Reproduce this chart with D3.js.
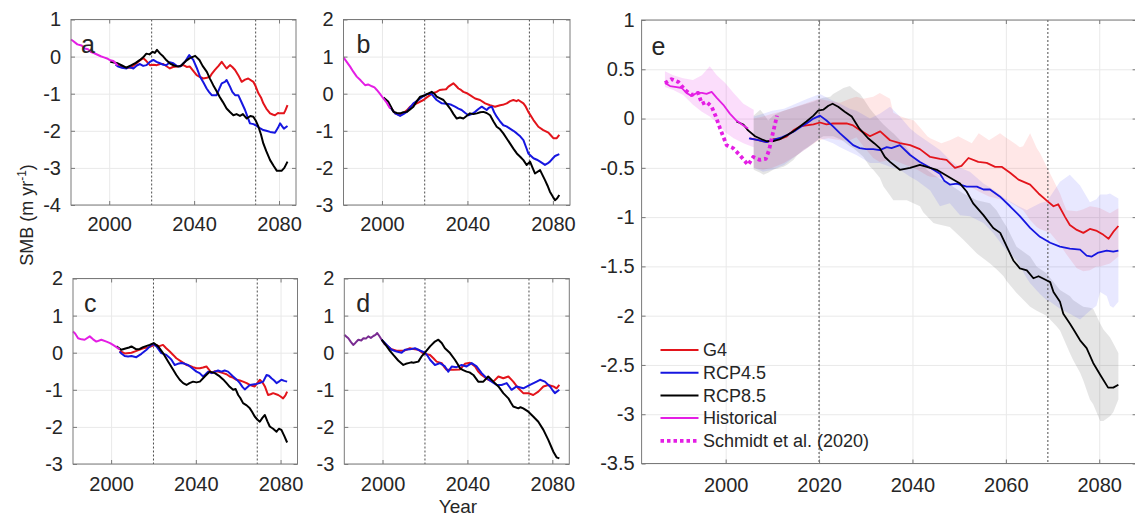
<!DOCTYPE html>
<html>
<head>
<meta charset="utf-8">
<script src="https://cdn.jsdelivr.net/npm/d3@7"></script>
<style>
  body { margin: 0; background: #fff; }
  svg text { font-family: "Liberation Sans", Arial, Helvetica, sans-serif; fill: #262626; }
</style>
</head>
<body>
<div id="chart"></div>
<script>
// ---- data: [year, SMB] ----
var a_hist = [[1982,0.46],[1983,0.42],[1985,0.33],[1987,0.3],[1988.5,0.22],[1990,0.2],[1991.5,0.12],[1993,0.09],[1994.5,0.05],[1996,0.01],[1997.5,-0.02],[1999,-0.05],[2000.5,-0.1],[2002,-0.12],[2004,-0.24]];
var a_g4 = [[2004,-0.25],[2007,-0.3],[2010,-0.3],[2012,-0.22],[2013.7,-0.14],[2015,-0.08],[2016,-0.04],[2017.5,-0.12],[2019.2,-0.23],[2021,-0.22],[2022.4,-0.23],[2024,-0.2],[2025.5,-0.2],[2027,-0.26],[2028.6,-0.32],[2030,-0.28],[2031.8,-0.27],[2033.5,-0.25],[2035,-0.23],[2036.5,-0.28],[2038,-0.27],[2039.5,-0.38],[2041.2,-0.5],[2042.8,-0.55],[2044.3,-0.59],[2046,-0.57],[2047.5,-0.54],[2048.5,-0.45],[2049.8,-0.36],[2051.5,-0.25],[2053,-0.14],[2054,-0.22],[2055.3,-0.32],[2056.9,-0.23],[2058,-0.28],[2059.3,-0.36],[2060.8,-0.5],[2062.4,-0.68],[2064,-0.62],[2065.5,-0.59],[2067.9,-0.68],[2069,-0.8],[2070.3,-0.99],[2071.5,-1.1],[2072.6,-1.26],[2074,-1.4],[2075.8,-1.53],[2077,-1.56],[2078.1,-1.58],[2079.5,-1.52],[2080.5,-1.53],[2082.3,-1.53],[2083,-1.45],[2084,-1.31]];
var a_rcp45 = [[2003,-0.22],[2004.3,-0.27],[2006,-0.3],[2008.2,-0.32],[2009.5,-0.28],[2011.4,-0.32],[2013,-0.24],[2014.5,-0.2],[2016,-0.25],[2017.6,-0.23],[2019,-0.15],[2020.8,-0.09],[2022.3,-0.14],[2023.9,-0.18],[2025.5,-0.22],[2027,-0.23],[2028.5,-0.15],[2030.2,-0.18],[2031.8,-0.25],[2033.4,-0.27],[2035.7,-0.14],[2037.7,0.04],[2039.6,-0.09],[2041.2,-0.3],[2042.8,-0.54],[2044.4,-0.7],[2045.9,-0.86],[2047,-0.95],[2048.3,-1.04],[2050.6,-1.04],[2052,-0.85],[2053,-0.72],[2054.5,-0.68],[2055.3,-0.63],[2056.9,-0.81],[2058,-0.95],[2059.3,-1.04],[2060.8,-1.04],[2062.5,-1.25],[2064,-1.44],[2065,-1.6],[2066.3,-1.8],[2068,-1.82],[2069.5,-1.87],[2071,-1.93],[2072.6,-1.98],[2074,-2.0],[2075.8,-2.03],[2078.1,-2.05],[2079.5,-1.92],[2080.5,-1.8],[2081.5,-1.88],[2082.3,-1.94],[2084,-1.87]];
var a_rcp85 = [[2000.5,-0.14],[2004,-0.18],[2006,-0.24],[2008,-0.3],[2010.5,-0.23],[2012.5,-0.17],[2014.5,-0.09],[2016,-0.02],[2017.5,0.08],[2019,0.06],[2020.5,0.13],[2021.5,0.1],[2022.5,0.18],[2024,0.08],[2025.5,0],[2027,-0.1],[2028.5,-0.18],[2030.5,-0.24],[2032.5,-0.27],[2034,-0.24],[2035,-0.18],[2036.5,-0.1],[2038,-0.04],[2040.5,0.02],[2042.5,-0.09],[2044,-0.25],[2046,-0.41],[2047.5,-0.6],[2049,-0.77],[2050.5,-0.92],[2052,-1.08],[2053.5,-1.22],[2055.3,-1.4],[2057,-1.5],[2058.5,-1.58],[2060,-1.55],[2061.6,-1.6],[2063,-1.55],[2064.8,-1.67],[2066.5,-1.6],[2067.9,-1.62],[2069,-1.72],[2070.3,-1.89],[2071.5,-2.1],[2072.6,-2.34],[2074,-2.55],[2075.8,-2.79],[2077.5,-2.95],[2079,-3.08],[2081.2,-3.08],[2082.5,-3.0],[2084,-2.83]];

var b_hist = [[1982,0.98],[1983.5,0.86],[1985.1,0.73],[1986.5,0.6],[1988.2,0.46],[1990,0.36],[1992.1,0.23],[1993.5,0.25],[1995.3,0.2],[1996.5,0.17],[1997.6,0.1],[1999,0.0],[2000.7,-0.13],[2002.3,-0.25],[2003.8,-0.4]];
var b_g4 = [[2003.8,-0.35],[2006.2,-0.53],[2008.5,-0.58],[2010,-0.52],[2011.6,-0.45],[2013.2,-0.35],[2016.3,-0.26],[2019.4,-0.17],[2021,-0.1],[2022.5,-0.04],[2024,0.02],[2025.6,0.05],[2027,0.1],[2028.8,0.11],[2030,0.12],[2031.1,0.19],[2033.4,0.28],[2034.5,0.22],[2035.8,0.14],[2037,0.1],[2038.1,0.05],[2039.5,0.02],[2041.2,-0.04],[2043.6,-0.13],[2045.9,-0.17],[2048.3,-0.26],[2050.6,-0.31],[2052.9,-0.35],[2055.3,-0.31],[2056.5,-0.3],[2058.4,-0.26],[2060,-0.2],[2061.5,-0.17],[2063,-0.2],[2063.8,-0.17],[2066.2,-0.26],[2067.3,-0.35],[2068.5,-0.49],[2070.9,-0.71],[2073.2,-0.89],[2075.5,-0.98],[2077.9,-1.05],[2079,-1.12],[2080.2,-1.2],[2081.8,-1.2],[2083,-1.11]];
var b_rcp45 = [[2003,-0.3],[2003.8,-0.35],[2005,-0.45],[2006.2,-0.53],[2008.5,-0.6],[2010,-0.55],[2011.6,-0.49],[2013,-0.38],[2014.7,-0.26],[2016.3,-0.2],[2017.9,-0.13],[2019.5,-0.06],[2021,-0.01],[2023.3,-0.01],[2024.5,-0.1],[2025.6,-0.17],[2028,-0.26],[2031.1,-0.28],[2032.5,-0.3],[2034.2,-0.35],[2035.8,-0.4],[2037.3,-0.44],[2039,-0.52],[2040.5,-0.58],[2042,-0.55],[2043.6,-0.49],[2045,-0.42],[2046.7,-0.35],[2049,-0.44],[2050,-0.38],[2051.4,-0.35],[2052.5,-0.5],[2053.7,-0.62],[2055.3,-0.75],[2056.8,-0.85],[2058.3,-0.88],[2059.9,-0.94],[2061.5,-1.0],[2063.1,-1.07],[2064.7,-1.15],[2066.2,-1.25],[2067.5,-1.45],[2068.5,-1.61],[2070.9,-1.74],[2072.5,-1.78],[2074,-1.83],[2076.3,-1.92],[2077.5,-1.88],[2078.6,-1.83],[2080,-1.74],[2081,-1.68],[2083,-1.63]];
var b_rcp85 = [[2000.7,-0.1],[2003,-0.22],[2004.2,-0.35],[2005.4,-0.49],[2007,-0.52],[2008.5,-0.53],[2010,-0.5],[2011.6,-0.49],[2013,-0.43],[2014.7,-0.35],[2016.3,-0.2],[2017.9,-0.08],[2020.2,-0.04],[2021.8,0.01],[2023.3,0.05],[2024.5,0.0],[2025.6,-0.08],[2027,-0.12],[2028.8,-0.17],[2030.3,-0.28],[2031.9,-0.4],[2033.5,-0.55],[2035,-0.67],[2036.5,-0.64],[2038.1,-0.67],[2039.6,-0.6],[2041.2,-0.53],[2042.8,-0.55],[2044.4,-0.53],[2046,-0.5],[2047.5,-0.49],[2049,-0.52],[2050.6,-0.58],[2052.2,-0.75],[2053.7,-0.89],[2055.3,-0.96],[2056.8,-1.07],[2058.3,-1.2],[2059.9,-1.34],[2061.5,-1.48],[2063.1,-1.61],[2064.7,-1.7],[2066.2,-1.79],[2067.7,-1.92],[2069.3,-1.83],[2070.5,-2.0],[2071.6,-2.15],[2074,-2.06],[2075.2,-2.2],[2076.3,-2.33],[2077.5,-2.48],[2078.6,-2.64],[2080,-2.78],[2081,-2.87],[2082,-2.82],[2083,-2.73]];

var c_hist = [[1982,0.57],[1983,0.52],[1984.4,0.39],[1986,0.36],[1987.5,0.35],[1989.9,0.44],[1991.5,0.36],[1993,0.3],[1995.4,0.35],[1997.8,0.3],[1999.5,0.26],[2000.9,0.21],[2002.5,0.15],[2004,0.09]];
var c_g4 = [[2004,0.05],[2006.4,-0.02],[2009.6,0.0],[2012,0.05],[2015.1,0.12],[2018,0.15],[2020,0.2],[2021.4,0.21],[2022.5,0.17],[2024.5,0.21],[2026,0.12],[2027.7,0.03],[2029.3,-0.06],[2030.8,-0.15],[2033.2,-0.24],[2035.6,-0.33],[2037,-0.35],[2038.7,-0.39],[2040.3,-0.42],[2041.9,-0.42],[2043.4,-0.4],[2045,-0.37],[2046,-0.44],[2047.4,-0.55],[2049,-0.5],[2050.5,-0.51],[2052.9,-0.55],[2054.5,-0.58],[2056,-0.64],[2057.5,-0.67],[2059.2,-0.73],[2060.8,-0.75],[2062.3,-0.78],[2064,-0.82],[2065.5,-0.87],[2067.8,-0.91],[2069,-0.82],[2070.2,-0.73],[2071.5,-0.8],[2072.6,-0.91],[2074.1,-1.14],[2075.3,-1.12],[2076.5,-1.09],[2078.9,-1.14],[2080,-1.18],[2081.2,-1.23],[2082.3,-1.15],[2083.1,-1.05]];
var c_rcp45 = [[2004,0.03],[2005,-0.03],[2006.4,-0.09],[2008,-0.1],[2009.6,-0.09],[2011.9,-0.12],[2014.3,-0.03],[2016.7,0.08],[2019,0.21],[2020,0.23],[2021.4,0.17],[2023.7,-0.01],[2026.1,-0.06],[2027.3,-0.12],[2028.5,-0.19],[2030,-0.33],[2031.5,-0.3],[2033.2,-0.28],[2034.8,-0.3],[2036.3,-0.33],[2038.3,-0.42],[2040.3,-0.51],[2041.8,-0.55],[2043.4,-0.64],[2044.6,-0.58],[2045.8,-0.51],[2047.5,-0.55],[2049,-0.51],[2050.5,-0.48],[2052.1,-0.51],[2053.6,-0.48],[2055.2,-0.51],[2057.6,-0.64],[2059.2,-0.72],[2060.8,-0.82],[2062,-0.92],[2063.1,-0.99],[2065.5,-0.87],[2068.6,-0.84],[2070,-0.82],[2071.8,-0.78],[2073.4,-0.6],[2074.5,-0.62],[2075.7,-0.69],[2077,-0.75],[2078.1,-0.82],[2079.2,-0.78],[2080.4,-0.73],[2081.8,-0.76],[2083.1,-0.78]];
var c_rcp85 = [[2002.5,0.17],[2004.8,0.08],[2007.2,0.12],[2008.5,0.14],[2009.6,0.17],[2011.9,0.09],[2013.5,0.1],[2015.1,0.15],[2018.2,0.21],[2020.1,0.26],[2022.2,0.17],[2024.5,-0.01],[2026.9,-0.24],[2029.3,-0.46],[2030.8,-0.6],[2032.4,-0.73],[2034,-0.82],[2035.6,-0.87],[2037,-0.82],[2038.7,-0.78],[2040.3,-0.8],[2041.9,-0.78],[2044.2,-0.64],[2046.6,-0.51],[2049,-0.55],[2051.3,-0.64],[2052.9,-0.72],[2054.5,-0.82],[2056,-0.92],[2057.6,-1.0],[2058.8,-0.98],[2060,-1.14],[2061,-1.22],[2062.3,-1.36],[2064,-1.42],[2065.5,-1.5],[2066.6,-1.6],[2067.8,-1.72],[2069,-1.8],[2070.2,-1.86],[2071.5,-1.75],[2072.6,-1.68],[2073.8,-1.85],[2074.9,-1.99],[2076.5,-2.05],[2078.1,-2.13],[2079.2,-2.05],[2080.4,-2.08],[2081.8,-2.25],[2083.1,-2.42]];

var d_hist = [[1982,0.48],[1983.9,0.39],[1985,0.3],[1986.2,0.21],[1987.3,0.27],[1988.6,0.35],[1990,0.33],[1991,0.39],[1992.2,0.38],[1993.3,0.44],[1994.5,0.4],[1995.7,0.45],[1996.7,0.48],[1997.5,0.53],[1998.5,0.45],[1999.6,0.35],[2001.2,0.21]];
var d_g4 = [[2001,0.25],[2004,0.1],[2007,0.05],[2010,0.05],[2012.9,0.12],[2014.5,0.1],[2016.9,0.08],[2019.2,-0.02],[2022.4,-0.06],[2024,-0.15],[2025.5,-0.24],[2027.9,-0.28],[2029,-0.38],[2030.2,-0.46],[2033.4,-0.46],[2036.5,-0.45],[2038.8,-0.3],[2041.2,-0.27],[2043.6,-0.37],[2045,-0.5],[2046.7,-0.6],[2049.8,-0.73],[2052.2,-0.78],[2054.6,-0.64],[2056.9,-0.69],[2059.3,-0.64],[2061.6,-0.78],[2064,-0.96],[2066.3,-1.09],[2068.7,-1.09],[2071,-1.14],[2073.4,-1.05],[2075.8,-0.91],[2078.1,-0.87],[2080.5,-0.91],[2082,-0.96],[2083.3,-0.87]];
var d_rcp45 = [[1999.6,0.35],[2002,0.21],[2004.3,0.08],[2006.7,0.03],[2009,0.0],[2010.6,0.08],[2012.9,0.09],[2015.3,0.12],[2017.6,0.06],[2020,0.0],[2021.2,-0.08],[2022.4,-0.19],[2024.7,-0.33],[2027.1,-0.28],[2029.4,-0.37],[2031,-0.51],[2032.6,-0.37],[2034.9,-0.39],[2037.3,-0.33],[2039.6,-0.37],[2042,-0.28],[2044.3,-0.37],[2046.7,-0.55],[2049.1,-0.69],[2051.4,-0.78],[2053.8,-0.87],[2056.1,-0.87],[2058.5,-0.82],[2060.8,-1.0],[2063.2,-0.91],[2066.3,-0.96],[2069.5,-0.87],[2072.6,-0.78],[2074.2,-0.73],[2076.5,-0.78],[2078.9,-0.91],[2080,-1.0],[2081.2,-1.09],[2083.3,-1.0]];
var d_rcp85 = [[1999.6,0.35],[2002,0.17],[2003.5,0.05],[2005.1,-0.06],[2007.4,-0.21],[2009.8,-0.33],[2011,-0.3],[2012.2,-0.28],[2013.5,-0.26],[2014.5,-0.27],[2016.9,-0.24],[2018.4,-0.1],[2020,0.0],[2022.4,0.17],[2024.7,0.3],[2026.3,0.35],[2027.9,0.26],[2029.4,0.12],[2031.8,-0.01],[2034.1,-0.19],[2035.3,-0.3],[2036.5,-0.42],[2038,-0.47],[2039.6,-0.51],[2041,-0.53],[2042.8,-0.6],[2045.1,-0.78],[2047.5,-0.78],[2049.8,-0.64],[2052.2,-0.78],[2054.6,-0.91],[2056.9,-1.09],[2059.3,-1.23],[2060.5,-1.35],[2061.6,-1.45],[2064,-1.5],[2065,-1.47],[2066.3,-1.5],[2068.7,-1.59],[2071,-1.72],[2073.4,-1.86],[2075.8,-2.08],[2078.1,-2.35],[2080.5,-2.67],[2082,-2.82],[2083.3,-2.85]];

var e_hist = [[1987,0.36],[1988.1,0.33],[1989.5,0.32],[1990.6,0.31],[1991.6,0.26],[1992.7,0.23],[1993.8,0.26],[1994.9,0.26],[1995.9,0.25],[1997,0.27],[1998.1,0.21],[1999.5,0.14],[2000.9,0.05],[2002.3,-0.02],[2003.8,-0.07],[2004.8,-0.1]];
var e_g4 = [[2005.2,-0.2],[2007,-0.22],[2008.8,-0.24],[2010.2,-0.21],[2011.6,-0.21],[2013.1,-0.18],[2014.5,-0.12],[2015.9,-0.08],[2017.3,-0.07],[2018.8,-0.06],[2020.2,-0.04],[2021.6,-0.06],[2023,-0.05],[2024.5,-0.05],[2025.9,-0.05],[2027.3,-0.07],[2028.8,-0.12],[2030.9,-0.18],[2033.1,-0.13],[2035.2,-0.22],[2037.3,-0.25],[2039.5,-0.27],[2041.6,-0.31],[2043.8,-0.39],[2045.9,-0.41],[2047.3,-0.42],[2049.1,-0.5],[2050.5,-0.48],[2052,-0.4],[2054.1,-0.44],[2055.9,-0.45],[2057.7,-0.49],[2059.1,-0.49],[2060.9,-0.55],[2062.7,-0.62],[2065.2,-0.67],[2067,-0.76],[2068.7,-0.83],[2070.2,-0.89],[2071.2,-0.87],[2072.7,-1.0],[2073.7,-1.08],[2075.2,-1.13],[2076.6,-1.16],[2078,-1.12],[2079.5,-1.14],[2080.9,-1.18],[2082,-1.22],[2083,-1.15],[2084.1,-1.09]];
var e_rcp45 = [[2005,-0.2],[2007,-0.22],[2008.8,-0.24],[2010.5,-0.21],[2012,-0.19],[2013.5,-0.16],[2015,-0.12],[2016.2,-0.08],[2017.3,-0.05],[2018.8,0.0],[2020.2,0.03],[2021.6,-0.02],[2023,-0.08],[2024.5,-0.15],[2025.9,-0.21],[2027.3,-0.27],[2028.7,-0.3],[2030.1,-0.31],[2031.6,-0.31],[2033,-0.32],[2034.5,-0.29],[2035.5,-0.3],[2037.3,-0.27],[2039.5,-0.37],[2041.6,-0.44],[2043.8,-0.5],[2045.9,-0.56],[2046.8,-0.63],[2048,-0.67],[2049.5,-0.66],[2051.6,-0.69],[2053.8,-0.69],[2055.2,-0.72],[2056.6,-0.72],[2058.7,-0.79],[2060.9,-0.89],[2063,-0.99],[2065.2,-1.11],[2067.3,-1.2],[2069.5,-1.26],[2071.6,-1.3],[2073.7,-1.32],[2075.9,-1.33],[2077.3,-1.39],[2078.4,-1.4],[2079.8,-1.36],[2081.6,-1.34],[2083,-1.35],[2084.1,-1.34]];
var e_rcp85 = [[2002.3,-0.03],[2003.8,-0.06],[2004.8,-0.12],[2006.3,-0.18],[2007.7,-0.21],[2008.8,-0.23],[2010.2,-0.23],[2011.6,-0.21],[2013.1,-0.17],[2014.5,-0.13],[2015.9,-0.08],[2017.3,-0.03],[2018.8,0.03],[2019.8,0.08],[2020.9,0.09],[2022,0.13],[2022.9,0.15],[2024.1,0.12],[2025.5,0.07],[2027,0.02],[2028.6,-0.1],[2030.5,-0.2],[2031.8,-0.25],[2033,-0.3],[2034.1,-0.39],[2035.2,-0.44],[2037.3,-0.52],[2039.5,-0.5],[2041.6,-0.47],[2043.8,-0.5],[2045.2,-0.52],[2047,-0.57],[2048.8,-0.62],[2050.2,-0.66],[2051.6,-0.74],[2053,-0.86],[2055.2,-0.98],[2057.3,-1.11],[2058.8,-1.16],[2060.2,-1.3],[2061.6,-1.44],[2063,-1.52],[2064.5,-1.54],[2065.9,-1.62],[2067,-1.6],[2068.7,-1.64],[2069.5,-1.66],[2070.2,-1.76],[2071.6,-1.86],[2072.3,-1.98],[2073.7,-2.08],[2074.5,-2.14],[2075.9,-2.25],[2077.3,-2.33],[2078.7,-2.48],[2080.2,-2.6],[2081.9,-2.73],[2083,-2.73],[2084.1,-2.7]];
var e_schmidt = [[1987,0.36],[1988.4,0.4],[1989.9,0.37],[1991.3,0.29],[1992.7,0.24],[1994.1,0.26],[1994.9,0.15],[1995.9,0.17],[1997,0.12],[1997.9,0.02],[1998.8,-0.1],[2000.2,-0.27],[2001.6,-0.3],[2003,-0.37],[2004.8,-0.47],[2005.9,-0.39],[2007.3,-0.42],[2008.6,-0.41],[2009.3,-0.32],[2010,-0.17],[2011,0.03]];

// spread bands for panel e: [year, low, high]
var e_hist_band = [[1987,0.32,0.48],[1988.8,0.29,0.44],[1990.9,0.24,0.41],[1993,0.14,0.39],[1994.9,0.07,0.44],[1996.6,0.02,0.53],[1998.1,-0.04,0.44],[1999.9,-0.14,0.36],[2001.7,-0.2,0.26],[2003.8,-0.25,0.15],[2006,-0.29,0.09]];
var e_g4_band = [[2006,-0.5,0.0],[2008,-0.52,0.02],[2010,-0.5,0.05],[2012.5,-0.45,0.08],[2015,-0.38,0.12],[2017.5,-0.3,0.16],[2019.9,-0.22,0.2],[2022,-0.2,0.18],[2024.5,-0.22,0.16],[2026.6,-0.22,0.2],[2028,-0.19,0.22],[2029.5,-0.28,0.2],[2031.6,-0.4,0.22],[2033,-0.44,0.26],[2035.2,-0.42,0.2],[2035.9,-0.42,0.06],[2037.5,-0.45,0.02],[2039.5,-0.49,-0.01],[2040.3,-0.5,-0.02],[2041.8,-0.54,-0.1],[2043.2,-0.58,-0.18],[2043.8,-0.59,-0.2],[2046.2,-0.6,-0.25],[2048,-0.62,-0.22],[2049.8,-0.65,-0.18],[2052.3,-0.69,-0.24],[2052.7,-0.7,-0.25],[2054.2,-0.74,-0.15],[2056.4,-0.79,-0.22],[2058.75,-0.82,-0.15],[2060.2,-0.83,-0.2],[2060.9,-0.85,-0.22],[2063,-0.91,-0.29],[2063.7,-0.93,-0.28],[2065.2,-1.03,-0.15],[2066.6,-1.1,-0.3],[2067.3,-1.12,-0.35],[2069.5,-1.16,-0.56],[2071.6,-1.28,-0.76],[2072.3,-1.33,-0.85],[2073,-1.38,-0.93],[2075.2,-1.52,-0.94],[2076.6,-1.55,-0.92],[2078,-1.54,-0.89],[2079.4,-1.5,-0.9],[2080.2,-1.5,-0.91],[2082.3,-1.47,-0.96],[2084.1,-1.4,-0.91]];
var e_rcp45_band = [[2006,-0.5,0.02],[2008,-0.54,0.05],[2010,-0.52,0.08],[2012.5,-0.47,0.1],[2015,-0.38,0.15],[2017.5,-0.3,0.2],[2020.2,-0.2,0.25],[2023,-0.25,0.18],[2024.5,-0.29,0.15],[2026.6,-0.34,0.1],[2028,-0.37,0.08],[2030.9,-0.45,0.0],[2033,-0.45,0.05],[2035.2,-0.49,0.12],[2037.3,-0.52,0.02],[2039.5,-0.59,-0.1],[2041,-0.63,-0.16],[2043.8,-0.73,-0.25],[2045.9,-0.89,-0.32],[2048,-0.86,-0.42],[2050.2,-0.98,-0.5],[2052.3,-0.99,-0.54],[2055.2,-1.06,-0.66],[2057.3,-1.16,-0.72],[2059.5,-1.3,-0.8],[2062.3,-1.44,-0.88],[2064.5,-1.62,-0.93],[2065.2,-1.67,-0.91],[2067.3,-1.78,-0.86],[2068.7,-1.84,-0.84],[2069.5,-1.86,-0.79],[2071.6,-1.93,-0.64],[2073.7,-1.98,-0.57],[2075.9,-2.04,-0.68],[2078,-1.95,-0.85],[2079.4,-1.9,-0.82],[2080.2,-1.76,-0.77],[2081.6,-1.8,-0.77],[2082.3,-1.9,-0.76],[2083,-1.92,-0.78],[2084.1,-1.86,-0.81]];
var e_rcp85_band = [[2006,-0.52,0.03],[2007.4,-0.55,0.09],[2008.1,-0.57,0.05],[2009.1,-0.55,-0.02],[2010.2,-0.52,0.03],[2010.9,-0.51,0.05],[2012.4,-0.49,0.08],[2013.1,-0.47,0.09],[2014.5,-0.42,0.11],[2015.2,-0.38,0.12],[2016.6,-0.32,0.14],[2017.3,-0.3,0.15],[2018.8,-0.25,0.17],[2020.2,-0.2,0.2],[2020.9,-0.18,0.21],[2022.4,-0.18,0.22],[2023,-0.18,0.25],[2024.5,-0.21,0.29],[2025.2,-0.23,0.31],[2026.6,-0.28,0.33],[2027.3,-0.3,0.3],[2028.8,-0.36,0.25],[2029.5,-0.39,0.2],[2030.9,-0.49,0.1],[2031.6,-0.52,0.06],[2033,-0.6,-0.02],[2033.8,-0.69,-0.06],[2035.2,-0.78,-0.12],[2035.9,-0.83,-0.15],[2038,-0.83,-0.25],[2038.8,-0.83,-0.3],[2040.2,-0.86,-0.39],[2041.6,-0.89,-0.45],[2042.3,-0.95,-0.49],[2044.5,-1.06,-0.57],[2045.2,-1.07,-0.59],[2048,-1.1,-0.67],[2050.9,-1.23,-0.76],[2053.8,-1.37,-0.83],[2056.6,-1.47,-0.86],[2058,-1.53,-0.93],[2059.5,-1.6,-1.05],[2060.2,-1.65,-1.1],[2062.3,-1.77,-1.3],[2065.2,-1.91,-1.4],[2066.6,-1.95,-1.5],[2068.7,-2.0,-1.57],[2070.9,-2.11,-1.7],[2071.6,-2.15,-1.74],[2073.7,-2.38,-1.8],[2074.4,-2.45,-1.84],[2075.9,-2.58,-1.89],[2076.6,-2.66,-1.91],[2078,-2.85,-1.92],[2078.7,-2.9,-1.93],[2080.2,-3.07,-2.08],[2080.9,-3.07,-2.14],[2082.3,-3.02,-2.22],[2083,-2.98,-2.28],[2084.1,-2.85,-2.38]];

var smallXTicks = [2000, 2040, 2080];
var bigXTicks = [2000, 2020, 2040, 2060, 2080];
var markYears = [2020, 2069];
var legendLabels = ["G4", "RCP4.5", "RCP8.5", "Historical", "Schmidt et al. (2020)"];

(function() {
  var RED = "#e3141b", BLUE = "#1616e0", BLACK = "#000000", MAG = "#e41ee4";

  var svg = d3.select("#chart")
    .append("svg")
    .attr("width", 1135)
    .attr("height", 518);

  function drawPanel(p) {
    var x = d3.scaleLinear().domain([1982, 2088]).range([p.left, p.right]);
    var y = d3.scaleLinear().domain(p.yDomain).range([p.bottom, p.top]);
    var h = p.bottom - p.top, w = p.right - p.left;
    var g = svg.append("g");

    // grid
    g.append("g")
      .attr("transform", "translate(0," + p.bottom + ")")
      .call(d3.axisBottom(x).tickValues(p.xTicks).tickSize(-h).tickFormat(""))
      .call(function(s) { s.select(".domain").remove(); })
      .selectAll("line").attr("stroke", "#e9e9e9");
    g.append("g")
      .attr("transform", "translate(" + p.left + ",0)")
      .call(d3.axisLeft(y).tickValues(p.yTicks).tickSize(-w).tickFormat(""))
      .call(function(s) { s.select(".domain").remove(); })
      .selectAll("line").attr("stroke", "#e9e9e9");

    // shaded spread
    (p.bands || []).forEach(function(b) {
      g.append("path")
        .datum(b.data)
        .attr("fill", b.color)
        .attr("fill-opacity", b.opacity)
        .attr("stroke", "none")
        .attr("d", d3.area()
          .x(function(d) { return x(d[0]); })
          .y0(function(d) { return y(d[1]); })
          .y1(function(d) { return y(d[2]); }));
    });

    // dotted year markers
    g.selectAll(".mark")
      .data(markYears)
      .enter().append("line")
      .attr("x1", function(d) { return x(d); })
      .attr("x2", function(d) { return x(d); })
      .attr("y1", p.top)
      .attr("y2", p.bottom)
      .attr("stroke", "#4d4d4d")
      .attr("stroke-width", 1)
      .attr("stroke-dasharray", "2,2");

    var line = d3.line()
      .x(function(d) { return x(d[0]); })
      .y(function(d) { return y(d[1]); });

    p.series.forEach(function(s) {
      g.append("path")
        .datum(s.data)
        .attr("fill", "none")
        .attr("stroke", s.color)
        .attr("stroke-width", s.width || p.lw)
        .attr("stroke-dasharray", s.dash || null)
        .attr("stroke-linejoin", "round")
        .attr("d", line);
    });

    // box
    g.append("rect")
      .attr("x", p.left).attr("y", p.top)
      .attr("width", w).attr("height", h)
      .attr("fill", "none")
      .attr("stroke", "#7a7a7a")
      .attr("stroke-width", 1);

    // axes with inward ticks
    var fmt = function(v) { return String(v); };
    var xa = g.append("g")
      .attr("transform", "translate(0," + p.bottom + ")")
      .call(d3.axisBottom(x).tickValues(p.xTicks).tickSizeInner(-4).tickSizeOuter(0).tickPadding(p.xPad).tickFormat(fmt));
    var xt = g.append("g")
      .attr("transform", "translate(0," + p.top + ")")
      .call(d3.axisTop(x).tickValues(p.xTicks).tickSizeInner(-4).tickSizeOuter(0).tickFormat(""));
    var ya = g.append("g")
      .attr("transform", "translate(" + p.left + ",0)")
      .call(d3.axisLeft(y).tickValues(p.yTicks).tickSizeInner(-4).tickSizeOuter(0).tickPadding(p.yPad).tickFormat(fmt));
    var yr = g.append("g")
      .attr("transform", "translate(" + p.right + ",0)")
      .call(d3.axisRight(y).tickValues(p.yTicks).tickSizeInner(-4).tickSizeOuter(0).tickFormat(""));

    [xa, xt, ya, yr].forEach(function(a) {
      a.select(".domain").remove();
      a.selectAll("line").attr("stroke", "#7a7a7a");
      a.selectAll("text")
        .style("font-size", "20px")
        .attr("fill", "#262626");
    });

    // panel letter
    g.append("text")
      .attr("x", p.left + p.letterDx)
      .attr("y", p.top + p.letterDy)
      .style("font-size", "25px")
      .attr("fill", "#111")
      .text(p.letter);

    return { x: x, y: y };
  }

  var yTicks5 = [-3, -2, -1, 0, 1, 2];

  drawPanel({ left: 71, right: 296, top: 19.5, bottom: 205, yDomain: [-4, 1], yTicks: [-4, -3, -2, -1, 0, 1],
    xTicks: smallXTicks, xPad: 12, yPad: 10, lw: 2, letter: "a", letterDx: 10, letterDy: 33,
    series: [{ data: a_g4, color: RED }, { data: a_rcp45, color: BLUE }, { data: a_rcp85, color: BLACK }, { data: a_hist, color: MAG }] });

  drawPanel({ left: 343.5, right: 570, top: 19.5, bottom: 205, yDomain: [-3, 2], yTicks: yTicks5,
    xTicks: smallXTicks, xPad: 12, yPad: 10, lw: 2, letter: "b", letterDx: 13, letterDy: 33,
    series: [{ data: b_g4, color: RED }, { data: b_rcp45, color: BLUE }, { data: b_rcp85, color: BLACK }, { data: b_hist, color: MAG }] });

  drawPanel({ left: 73, right: 297.5, top: 278.5, bottom: 464, yDomain: [-3, 2], yTicks: yTicks5,
    xTicks: smallXTicks, xPad: 12.5, yPad: 10, lw: 2, letter: "c", letterDx: 11, letterDy: 33,
    series: [{ data: c_g4, color: RED }, { data: c_rcp45, color: BLUE }, { data: c_rcp85, color: BLACK }, { data: c_hist, color: MAG }] });

  drawPanel({ left: 344.3, right: 569.3, top: 278.5, bottom: 464, yDomain: [-3, 2], yTicks: yTicks5,
    xTicks: smallXTicks, xPad: 12.5, yPad: 10, lw: 2, letter: "d", letterDx: 12, letterDy: 33,
    series: [{ data: d_hist, color: "#7a2c92" }, { data: d_g4, color: RED }, { data: d_rcp45, color: BLUE }, { data: d_rcp85, color: BLACK }] });

  drawPanel({ left: 641.6, right: 1136.6, top: 20, bottom: 463.5, yDomain: [-3.5, 1],
    yTicks: [-3.5, -3, -2.5, -2, -1.5, -1, -0.5, 0, 0.5, 1],
    xTicks: bigXTicks, xPad: 14.5, yPad: 7, lw: 1.8, letter: "e", letterDx: 10, letterDy: 35,
    bands: [
      { data: e_hist_band, color: MAG, opacity: 0.15 },
      { data: e_rcp85_band, color: "#000", opacity: 0.1 },
      { data: e_g4_band, color: "#ff1010", opacity: 0.1 },
      { data: e_rcp45_band, color: "#2020ff", opacity: 0.1 }
    ],
    series: [
      { data: e_g4, color: RED }, { data: e_rcp45, color: BLUE }, { data: e_rcp85, color: BLACK },
      { data: e_hist, color: MAG },
      { data: e_schmidt, color: MAG, width: 3.8, dash: "3.5,3" }
    ] });

  // legend in panel e
  var legStyles = [
    { color: RED, width: 2 }, { color: BLUE, width: 2 }, { color: BLACK, width: 2 },
    { color: MAG, width: 2 }, { color: MAG, width: 3.8, dash: "3.5,3" }
  ];
  var leg = svg.append("g").attr("class", "legend");
  legendLabels.forEach(function(label, i) {
    var yy = 350 + i * 22.7;
    leg.append("line")
      .attr("x1", 660.5).attr("x2", 698.5)
      .attr("y1", yy).attr("y2", yy)
      .attr("stroke", legStyles[i].color)
      .attr("stroke-width", legStyles[i].width)
      .attr("stroke-dasharray", legStyles[i].dash || null);
    leg.append("text")
      .attr("x", 703).attr("y", yy)
      .attr("dy", "0.35em")
      .style("font-size", "18px")
      .text(label);
  });

  // axis titles
  var yl = svg.append("text")
    .attr("transform", "translate(33,215) rotate(-90)")
    .attr("text-anchor", "middle")
    .style("font-size", "18px");
  yl.append("tspan").text("SMB (m yr");
  yl.append("tspan").attr("dy", -7).style("font-size", "12px").text("-1");
  yl.append("tspan").attr("dy", 7).text(")");

  svg.append("text")
    .attr("x", 458)
    .attr("y", 513)
    .attr("text-anchor", "middle")
    .style("font-size", "19px")
    .text("Year");
})();
</script>
</body>
</html>
